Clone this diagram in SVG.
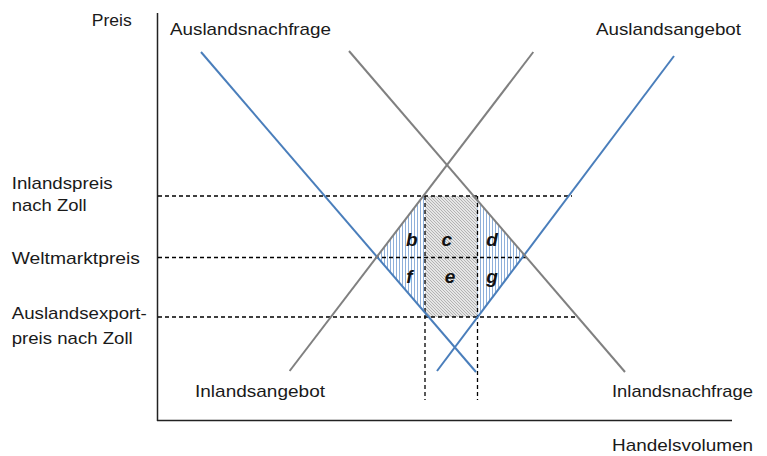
<svg xmlns="http://www.w3.org/2000/svg" width="767" height="456" viewBox="0 0 767 456">
<style>
.lbl{font-family:"Liberation Sans",Arial,sans-serif;font-size:17px;fill:#1a1a1a}
.let{font-family:"Liberation Sans",Arial,sans-serif;font-size:19px;font-weight:bold;font-style:italic;fill:#111;text-anchor:middle}
.blue{stroke:#4A7EBB;stroke-width:2;fill:none}
.gray{stroke:#808080;stroke-width:2;fill:none}
.dash{stroke:#000;stroke-width:1.3;stroke-dasharray:4 3;fill:none}
.axis{stroke:#222;stroke-width:1.5;fill:none}
</style>
<defs>
<pattern id="vh" patternUnits="userSpaceOnUse" width="3" height="3">
<rect x="0" y="0" width="1" height="3" fill="#8FB0DA"/>
</pattern>
<pattern id="dh" patternUnits="userSpaceOnUse" width="3" height="3">
<rect width="3" height="3" fill="#e6e6e6"/>
<path d="M-1,-1 L4,4 M-1,2 L1,4 M2,-1 L4,1" stroke="#a6a6a6" stroke-width="0.8"/>
</pattern>
</defs>
<rect width="767" height="456" fill="#fff"/>
<g id="areas">
<rect id="area-ce" x="425" y="196" width="52.5" height="121" fill="url(#dh)"/>
<polygon id="area-bf" points="423.3,196 425,196 425,312.6 376.9,256.7" fill="url(#vh)"/>
<polygon id="area-dg" points="477.5,200.4 524.4,254.9 477.5,317.2" fill="url(#vh)"/>
</g>
<g id="axes">
<line class="axis" x1="157.5" y1="13" x2="157.5" y2="421"/>
<line class="axis" x1="157" y1="420.5" x2="732" y2="420.5"/>
</g>
<g id="connectors">
<line class="dash" x1="158" y1="196" x2="572" y2="196"/>
<line class="dash" x1="158" y1="257.5" x2="527" y2="257.5"/>
<line class="dash" x1="158" y1="317" x2="575" y2="317"/>
<line class="dash" x1="425" y1="196" x2="425" y2="400"/>
<line class="dash" x1="477.5" y1="196" x2="477.5" y2="400"/>
</g>
<g id="curves">
<line id="auslandsnachfrage-line" class="blue" x1="201" y1="52" x2="476" y2="372"/>
<line id="auslandsangebot-line" class="blue" x1="437" y1="371" x2="674" y2="56"/>
<line id="inlandsangebot-line" class="gray" x1="289.6" y1="371" x2="533.3" y2="52"/>
<line id="inlandsnachfrage-line" class="gray" x1="349" y1="51" x2="625" y2="372"/>
</g>
<g id="labels">
<text class="lbl" x="91.7" y="26" textLength="40" lengthAdjust="spacingAndGlyphs">Preis</text>
<text class="lbl" x="170" y="35" textLength="161" lengthAdjust="spacingAndGlyphs">Auslandsnachfrage</text>
<text class="lbl" x="596" y="35" textLength="145" lengthAdjust="spacingAndGlyphs">Auslandsangebot</text>
<text class="lbl" x="11.7" y="188.5" textLength="101" lengthAdjust="spacingAndGlyphs">Inlandspreis</text>
<text class="lbl" x="11.7" y="211" textLength="75" lengthAdjust="spacingAndGlyphs">nach Zoll</text>
<text class="lbl" x="11.7" y="264.3" textLength="128.3" lengthAdjust="spacingAndGlyphs">Weltmarktpreis</text>
<text class="lbl" x="11.7" y="319.3" textLength="135" lengthAdjust="spacingAndGlyphs">Auslandsexport-</text>
<text class="lbl" x="11.7" y="344.3" textLength="121" lengthAdjust="spacingAndGlyphs">preis nach Zoll</text>
<text class="lbl" x="195" y="397" textLength="130" lengthAdjust="spacingAndGlyphs">Inlandsangebot</text>
<text class="lbl" x="612" y="397" textLength="141" lengthAdjust="spacingAndGlyphs">Inlandsnachfrage</text>
<text class="lbl" x="612" y="451" textLength="141" lengthAdjust="spacingAndGlyphs">Handelsvolumen</text>
</g>
<g id="area-letters">
<text class="let" x="411.7" y="246">b</text>
<text class="let" x="446.7" y="246">c</text>
<text class="let" x="492" y="246">d</text>
<text class="let" x="409.5" y="282.5">f</text>
<text class="let" x="450" y="282.5">e</text>
<text class="let" x="492" y="282.5">g</text>
</g>
</svg>
